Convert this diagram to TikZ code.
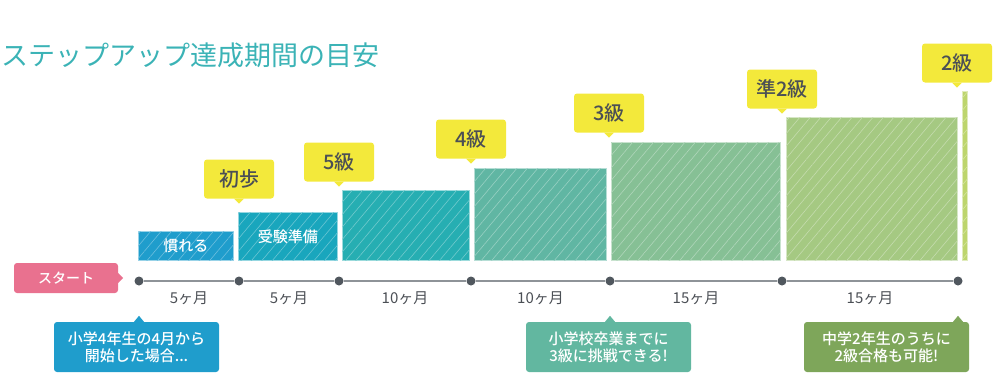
\documentclass[tikz,border=0pt]{standalone}
\usepackage{fontspec}
\setmainfont{Noto Sans CJK JP}
\newfontfamily\medium{Noto Sans CJK JP Medium}
\usetikzlibrary{patterns.meta}
\definecolor{ttl}{HTML}{3BB3B6}
\definecolor{txt}{HTML}{4B4F55}
\definecolor{dotc}{HTML}{50575E}
\definecolor{axisc}{HTML}{8E9398}
\definecolor{ylw}{HTML}{F3E93B}
\definecolor{pnk}{HTML}{E9718F}
\definecolor{cA}{HTML}{1F9DCC}
\definecolor{cB}{HTML}{19A6BD}
\definecolor{cC}{HTML}{26AEB2}
\definecolor{cD}{HTML}{60B6A3}
\definecolor{cE}{HTML}{86C095}
\definecolor{cF}{HTML}{A5C982}
\definecolor{cG}{HTML}{BDD56D}
\definecolor{cT}{HTML}{62B7A0}
\definecolor{cV}{HTML}{7EA65A}

\begin{document}
\begin{tikzpicture}[x=1pt,y=-1pt,
  bar/.style={fill=#1, draw=white!55!#1, line width=0.7pt, inner sep=0pt,
    anchor=south west, text=white, font=\medium\fontsize{15}{18}\selectfont,
    postaction={pattern={Lines[angle=50,distance=8pt,line width=0.6pt]},
      pattern color=white!35!#1}},
  grade/.style={fill=ylw, rounded corners=3pt, minimum width=70pt,
    minimum height=39pt, inner sep=0pt, text=txt, font=\medium\fontsize{20}{24}\selectfont},
  note/.style={fill=#1, rounded corners=3pt, minimum width=165pt,
    minimum height=50pt, inner sep=0pt, align=center, text=white,
    font=\medium\fontsize{15}{17}\selectfont},
  dot/.style={circle, fill=dotc, inner sep=0pt, minimum size=9pt},
  month/.style={text=txt, font=\fontsize{15}{17}\selectfont}]
  \useasboundingbox (0,0) rectangle (1000,386);

  \node[anchor=west, inner sep=0pt, text=ttl, font=\fontsize{27}{32}\selectfont]
    (title) at (1,55) {ステップアップ達成期間の目安};

  \node[bar=cA, minimum width=95pt, minimum height=29pt] (nareru) at (138,261) {慣れる};
  \node[bar=cB, minimum width=99pt, minimum height=48pt] (junbi) at (238,261) {受験準備};
  \node[bar=cC, minimum width=127pt, minimum height=70pt] (b5) at (342,261) {};
  \node[bar=cD, minimum width=132pt, minimum height=92pt] (b4) at (474,261) {};
  \node[bar=cE, minimum width=169pt, minimum height=118pt] (b3) at (611,261) {};
  \node[bar=cF, minimum width=171pt, minimum height=143pt] (bp2) at (786,261) {};
  \node[bar=cG, minimum width=5pt, minimum height=169pt] (b2) at (962,261) {};

  \foreach \n/\x/\y/\t in {a/239/179/初歩, b/339/162/5級, c/471/139/4級,
      d/609/113/3級, e/782/89/準2級, f/957/63/2級} {
    \node[grade] (g\n) at (\x,\y) {\t};
    \fill[ylw] ([xshift=-5pt]g\n.south) -- ([xshift=5pt]g\n.south)
      -- ([yshift=-5pt]g\n.south) -- cycle;
  }

  \node[fill=pnk, rounded corners=3pt, minimum width=104pt, minimum height=30pt,
    inner sep=0pt, text=white, font=\medium\fontsize{14}{16}\selectfont]
    (start) at (66,278) {スタート};
  \fill[pnk] ([yshift=5pt]start.east) -- ([xshift=5pt]start.east)
    -- ([yshift=-5pt]start.east) -- cycle;

  \foreach \i/\x in {0/139, 1/239, 2/339, 3/471, 4/610, 5/782, 6/958}
    \node[dot] (d\i) at (\x,281) {};
  \foreach \a/\b in {0/1, 1/2, 2/3, 3/4, 4/5, 5/6}
    \draw[axisc, line width=1.6pt] (d\a) -- (d\b);

  \path (d0) -- (d1) node[month, midway, yshift=-17pt] (m1) {5ヶ月};
  \path (d1) -- (d2) node[month, midway, yshift=-17pt] (m2) {5ヶ月};
  \path (d2) -- (d3) node[month, midway, yshift=-17pt] (m3) {10ヶ月};
  \path (d3) -- (d4) node[month, midway, yshift=-17pt] (m4) {10ヶ月};
  \path (d4) -- (d5) node[month, midway, yshift=-17pt] (m5) {15ヶ月};
  \path (d5) -- (d6) node[month, midway, yshift=-17pt] (m6) {15ヶ月};

  \node[note=cA] (n1) at (136.5,347) {小学4年生の4月から\\開始した場合...};
  \node[note=cT] (n2) at (608.5,347) {小学校卒業までに\\3級に挑戦できる!};
  \node[note=cV] (n3) at (886.5,347) {中学2年生のうちに\\2級合格も可能!};
  \coordinate (p1) at (d0 |- n1.north);
  \coordinate (p2) at (d4 |- n2.north);
  \coordinate (p3) at (d6 |- n3.north);
  \fill[cA] ([xshift=-5pt]p1) -- ([xshift=5pt]p1) -- ([yshift=6pt]p1) -- cycle;
  \fill[cT] ([xshift=-5pt]p2) -- ([xshift=5pt]p2) -- ([yshift=6pt]p2) -- cycle;
  \fill[cV] ([xshift=-5pt]p3) -- ([xshift=5pt]p3) -- ([yshift=6pt]p3) -- cycle;
\end{tikzpicture}
\end{document}
